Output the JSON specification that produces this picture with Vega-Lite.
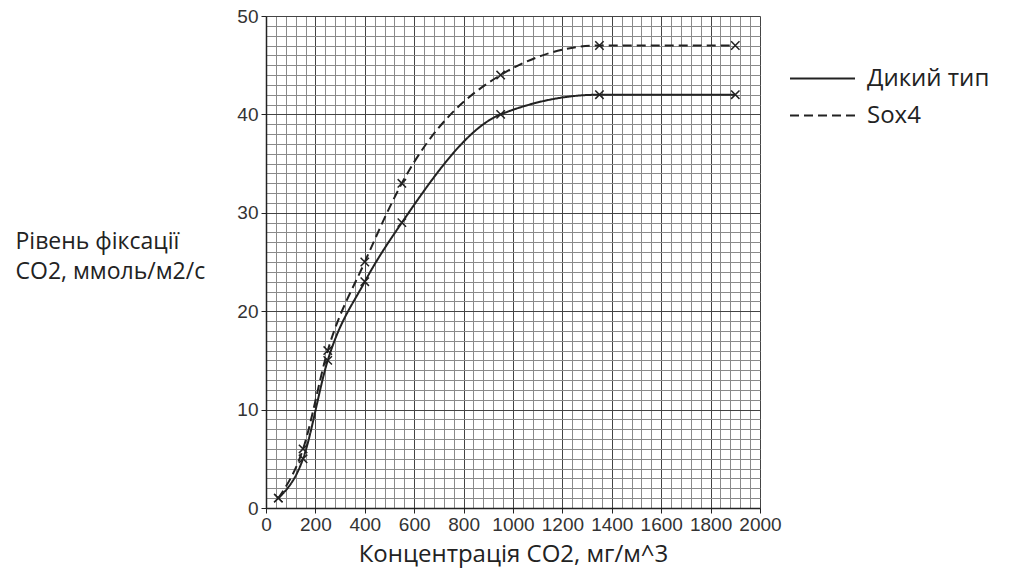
{
  "$schema": "https://vega.github.io/schema/vega-lite/v6.json",
  "width": 494,
  "height": 492,
  "autosize": {"type": "none"},
  "padding": {"left": 266, "top": 16, "right": 264, "bottom": 67},
  "background": "white",
  "config": {
    "view": {"stroke": null},
    "axis": {"labelFont": "Liberation Sans", "titleFont": "Open Sans", "titleFontWeight": "normal"},
    "legend": {"labelFont": "Open Sans"}
  },
  "data": {
    "values": [
      {"conc": 50, "rate": 1, "series": "Дикий тип"},
      {"conc": 150, "rate": 5, "series": "Дикий тип"},
      {"conc": 250, "rate": 15, "series": "Дикий тип"},
      {"conc": 400, "rate": 23, "series": "Дикий тип"},
      {"conc": 550, "rate": 29, "series": "Дикий тип"},
      {"conc": 950, "rate": 40, "series": "Дикий тип"},
      {"conc": 1350, "rate": 42, "series": "Дикий тип"},
      {"conc": 1900, "rate": 42, "series": "Дикий тип"},
      {"conc": 50, "rate": 1, "series": "Sox4"},
      {"conc": 150, "rate": 6, "series": "Sox4"},
      {"conc": 250, "rate": 16, "series": "Sox4"},
      {"conc": 400, "rate": 25, "series": "Sox4"},
      {"conc": 550, "rate": 33, "series": "Sox4"},
      {"conc": 950, "rate": 44, "series": "Sox4"},
      {"conc": 1350, "rate": 47, "series": "Sox4"},
      {"conc": 1900, "rate": 47, "series": "Sox4"}
    ]
  },
  "layer": [
    {
      "mark": {"type": "line", "interpolate": "monotone", "color": "#222222", "strokeWidth": 2},
      "encoding": {
        "x": {
          "field": "conc", "type": "quantitative",
          "scale": {"domain": [0, 2000], "nice": false, "zero": false},
          "axis": {
            "orient": "bottom",
            "values": [0, 200, 400, 600, 800, 1000, 1200, 1400, 1600, 1800, 2000],
            "format": "d", "labelOverlap": false, "labelFlush": false,
            "grid": true, "gridColor": "#444444", "gridWidth": 1,
            "domainColor": "#222222", "domainWidth": 1.5,
            "tickColor": "#222222", "tickSize": 5,
            "labelFontSize": 19, "labelColor": "#333333", "labelPadding": 2,
            "title": "Концентрація CO2, мг/м^3",
            "titleFontSize": 24, "titleColor": "#222222", "titlePadding": 8
          }
        },
        "y": {
          "field": "rate", "type": "quantitative",
          "scale": {"domain": [0, 50], "nice": false, "zero": false},
          "axis": {
            "orient": "left",
            "values": [0, 10, 20, 30, 40, 50],
            "grid": true, "gridColor": "#444444", "gridWidth": 1,
            "domainColor": "#222222", "domainWidth": 1.5,
            "tickColor": "#222222", "tickSize": 5,
            "labelFontSize": 19, "labelColor": "#333333", "labelPadding": 3,
            "title": ["Рівень фіксації", "CO2, ммоль/м2/с"],
            "titleFontSize": 23, "titleColor": "#222222",
            "titleAngle": 0, "titleAlign": "left", "titleBaseline": "alphabetic",
            "titleX": -251, "titleY": 232, "titleLineHeight": 30
          }
        },
        "strokeDash": {
          "field": "series", "type": "nominal",
          "scale": {"domain": ["Дикий тип", "Sox4"], "range": [[1, 0], [9, 5]]},
          "legend": {
            "title": null, "orient": "none", "legendX": 539, "legendY": 45,
            "symbolType": "M-2,0L2,0", "symbolSize": 1056, "symbolStrokeWidth": 2,
            "symbolStrokeColor": "#222222", "symbolFillColor": "transparent",
            "labelFontSize": 24, "labelColor": "#222222", "labelOffset": 27,
            "rowPadding": 7
          }
        }
      }
    },
    {
      "mark": {"type": "point", "shape": "M-1,-1L1,1M-1,1L1,-1", "filled": false, "color": "#222222", "strokeWidth": 1.5, "size": 70, "opacity": 1},
      "encoding": {
        "x": {
          "field": "conc", "type": "quantitative",
          "axis": {
            "orient": "top",
            "values": [40, 80, 120, 160, 240, 280, 320, 360, 440, 480, 520, 560, 640, 680, 720, 760, 840, 880, 920, 960, 1040, 1080, 1120, 1160, 1240, 1280, 1320, 1360, 1440, 1480, 1520, 1560, 1640, 1680, 1720, 1760, 1840, 1880, 1920, 1960],
            "grid": true, "gridColor": "#8a8a8a", "gridWidth": 1,
            "domain": false, "ticks": false, "labels": false, "title": null
          }
        },
        "y": {
          "field": "rate", "type": "quantitative",
          "axis": {
            "orient": "right",
            "values": [1, 2, 3, 4, 5, 6, 7, 8, 9, 11, 12, 13, 14, 15, 16, 17, 18, 19, 21, 22, 23, 24, 25, 26, 27, 28, 29, 31, 32, 33, 34, 35, 36, 37, 38, 39, 41, 42, 43, 44, 45, 46, 47, 48, 49],
            "grid": true, "gridColor": "#8a8a8a", "gridWidth": 1,
            "domain": false, "ticks": false, "labels": false, "title": null
          }
        },
        "detail": {"field": "series", "type": "nominal"}
      }
    }
  ],
  "resolve": {"axis": {"x": "independent", "y": "independent"}}
}
